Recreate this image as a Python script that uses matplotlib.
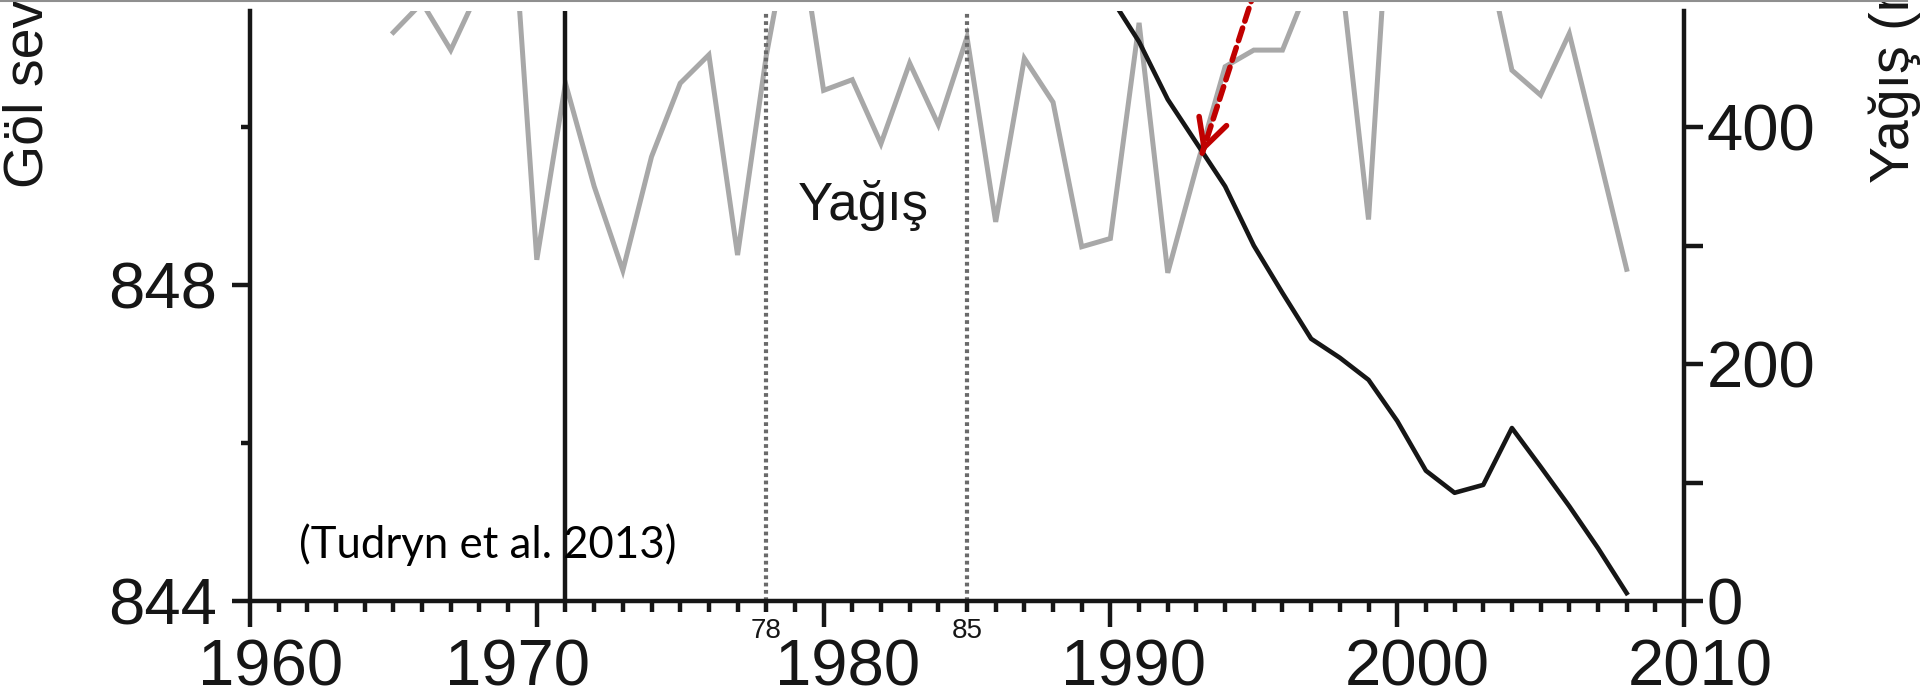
import matplotlib
matplotlib.use("Agg")
import matplotlib.pyplot as plt
from matplotlib.lines import Line2D
from matplotlib.ticker import FixedLocator, FixedFormatter, FuncFormatter, NullFormatter
from matplotlib.transforms import ScaledTranslation

plt.rcParams['font.family'] = ['Liberation Sans', 'DejaVu Sans']

# ---------------- data ----------------
# annual precipitation (mm), right axis
precip_years = list(range(1965, 2009))
precip_mm = [480, 505, 465, 517, 640, 288, 437, 350, 279, 375,
             437, 461, 292, 460, 590, 431, 440, 386, 454, 402,
             476, 320, 458, 421, 299, 306, 488, 277, 366, 451,
             465, 465, 525, 539, 322, 700, 640, 600, 560, 448,
             427, 479, 380, 280]

# lake level (m), left axis
level_years = list(range(1990, 2009))
level_m = [851.65, 851.08, 850.35, 849.80, 849.25, 848.50, 847.90, 847.32,
           847.08, 846.80, 846.28, 845.65, 845.37, 845.47, 846.19, 845.70,
           845.20, 844.67, 844.10]

record_start_year = 1971
period_marks = [1978, 1985]
period_labels = ['78', '85']

decades = [1960, 1970, 1980, 1990, 2000, 2010]
decade_labels = ['1960', '1970', '1980', '1990', '2000', '2010']
level_ticks = [844, 848]
level_minor_ticks = [846, 850]
precip_ticks = [0, 200, 400]
precip_minor_ticks = [100, 300]

# ---------------- figure ----------------
INK = '#161616'
W, H = 1920, 697
fig = plt.figure(figsize=(W / 100, H / 100), dpi=100)
L, R = 250 / W, 1684 / W
B, T = (H - 601) / H, (H - 11) / H
ax = fig.add_axes([L, B, R - L, T - B])
ax2 = ax.twinx()
ax.set_zorder(ax2.get_zorder() + 1)
ax.patch.set_visible(False)

ax.set_xlim(1960, 2010)
ax.set_ylim(844, 851.47)
ax2.set_ylim(0, 498)

# precipitation (grey)
ax2.plot(precip_years, precip_mm, color='#a8a8a8', lw=3.6,
         solid_joinstyle='miter')

# period markers
for yr in period_marks:
    ax.axvline(yr, color='#6a6a6a', lw=3.0, linestyle=(0, (0.9, 0.85)))

# record start line and lake level (black)
ax.axvline(record_start_year, color=INK, lw=3.2)
ax.plot(level_years, level_m, color=INK, lw=3.3, solid_joinstyle='round')

# spines
for s in ['top', 'right']:
    ax.spines[s].set_visible(False)
for s in ['top', 'left', 'bottom']:
    ax2.spines[s].set_visible(False)
for sp in [ax.spines['left'], ax.spines['bottom'], ax2.spines['right']]:
    sp.set_linewidth(3.2)
    sp.set_color(INK)

# x ticks
minor_years = [y for y in range(1960, 2011) if y % 10]
mark_map = dict(zip(period_marks, period_labels))
ax.xaxis.set_major_locator(FixedLocator(decades))
ax.xaxis.set_major_formatter(FixedFormatter(decade_labels))
ax.xaxis.set_minor_locator(FixedLocator(minor_years))
ax.xaxis.set_minor_formatter(FuncFormatter(lambda v, p: mark_map.get(int(round(v)), '')))
ax.tick_params(axis='x', which='major', direction='out', length=18.7, width=3.2,
               pad=8.0, labelsize=47, colors=INK)
ax.tick_params(axis='x', which='minor', direction='out', length=7.9, width=3.2,
               pad=4.5, labelsize=20, colors=INK)

# left y ticks
ax.yaxis.set_major_locator(FixedLocator(level_ticks))
ax.yaxis.set_minor_locator(FixedLocator(level_minor_ticks))
ax.yaxis.set_minor_formatter(NullFormatter())
ax.tick_params(axis='y', which='major', direction='out', length=13, width=3.2,
               pad=11, labelsize=47, colors=INK)
ax.tick_params(axis='y', which='minor', direction='out', length=6.8, width=3.2,
               colors=INK)

# right y ticks
ax2.yaxis.set_major_locator(FixedLocator(precip_ticks))
ax2.yaxis.set_minor_locator(FixedLocator(precip_minor_ticks))
ax2.yaxis.set_minor_formatter(NullFormatter())
ax2.tick_params(axis='y', which='both', direction='out', length=14, width=3.2,
                pad=2.5, labelsize=47, colors=INK)

# axis labels (cut by the top edge as in the reference)
ax.set_ylabel('Göl seviyesi (m)', fontsize=40, color=INK, ha='left', va='baseline')
ax.yaxis.set_label_coords((43 - 250) / 1434, (601 - 188) / 590)
ax2.set_ylabel('Yağış (mm)', fontsize=40, color=INK, ha='left', va='baseline')
ax2.yaxis.set_label_coords((1909 - 250) / 1434, (601 - 183) / 590)

# texts
ax.text(1979.1, 848.82, 'Yağış', fontsize=38, color=INK, ha='left', va='baseline')
ax.text(1961.7, 844.54, '(Tudryn et al. 2013)', fontsize=31.5, color='black',
        family=['Lato', 'DejaVu Sans'], ha='left', va='baseline')

# red dashed arrow
tip = (1993.2, 849.67)
tail = (1995.05, 851.75)
ax.annotate('', xy=tip, xytext=tail, xycoords='data', textcoords='data',
            annotation_clip=False,
            arrowprops=dict(arrowstyle='-', color='#c00000', lw=4.0,
                            linestyle=(0, (2.4, 1.3)), shrinkA=0, shrinkB=0,
                            clip_on=False))
ax.annotate('', xy=tip, xytext=(0.63, 1.9), textcoords='offset points',
            annotation_clip=False,
            arrowprops=dict(arrowstyle='->,head_length=1.0,head_width=0.52',
                            color='#c00000', lw=4.0, mutation_scale=20,
                            shrinkA=0, shrinkB=0, clip_on=False))

# top border line of the crop
fig.add_artist(Line2D([0, 1907 / W], [1 - 1 / H, 1 - 1 / H], color='#8f8f8f',
                      lw=1.5, transform=fig.transFigure))

# hand-placed decade labels (shifted as in the reference)
shifts_px = [21, -19, 24, 23, 20, 16]
for lbl, dx in zip(ax.xaxis.get_majorticklabels(), shifts_px):
    lbl.set_transform(lbl.get_transform() + ScaledTranslation(dx / 100, 0, fig.dpi_scale_trans))

fig.savefig('out.png', dpi=100, facecolor='white')
